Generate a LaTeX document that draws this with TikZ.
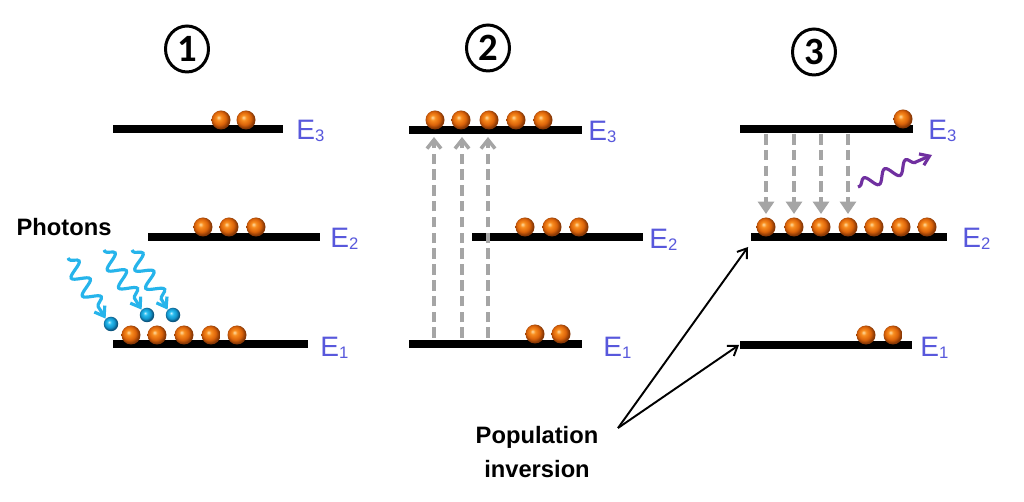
\documentclass[tikz,border=0pt]{standalone}
\usepackage{fontspec}
\setmainfont{Liberation Sans}
\newfontfamily\numfont{Carlito}
\usetikzlibrary{arrows.meta,decorations.pathmorphing,shapes.geometric}
\definecolor{lvlblue}{RGB}{88,88,220}
\definecolor{photblue}{RGB}{38,180,235}
\definecolor{emitpurple}{RGB}{112,48,160}
\definecolor{ohi}{RGB}{255,220,160}
\definecolor{omain}{RGB}{248,140,30}
\definecolor{omid}{RGB}{220,100,10}
\definecolor{odark}{RGB}{135,55,5}
\definecolor{bhi}{RGB}{200,240,255}
\definecolor{bmain}{RGB}{40,190,240}
\definecolor{bmid}{RGB}{20,150,205}
\definecolor{bdark}{RGB}{10,80,120}
\definecolor{dashgray}{RGB}{165,165,165}
\pgfdeclareradialshading{oball}{\pgfpoint{-7bp}{7bp}}{color(0bp)=(ohi); color(7bp)=(omain); color(17bp)=(omid); color(25bp)=(odark); color(50bp)=(odark)}
\pgfdeclareradialshading{bball}{\pgfpoint{-7bp}{7bp}}{color(0bp)=(bhi); color(7bp)=(bmain); color(17bp)=(bmid); color(25bp)=(bdark); color(50bp)=(bdark)}
\newcommand{\lvl}[1]{E\raisebox{-0.8pt}{\fontsize{9.5}{9.5}\selectfont #1}}
\begin{document}
\begin{tikzpicture}[x=0.02cm,y=-0.02cm,
  levelbar/.style={fill=black,inner sep=0pt,minimum height=0.16cm},
  eball/.style={circle,inner sep=0pt,minimum size=0.38cm,shading=oball},
  pball/.style={circle,inner sep=0pt,minimum size=0.29cm,shading=bball},
  lvllabel/.style={anchor=west,inner sep=0pt,text=lvlblue,font=\fontsize{16}{18}\selectfont},
  stepnum/.style={ellipse,draw=black,line width=1.7pt,minimum width=0.86cm,minimum height=0.92cm,inner sep=0pt,font=\numfont\bfseries\fontsize{22}{22}\selectfont},
  photon/.style={photblue,line width=1.8pt,-{Straight Barb[length=5pt,width=7pt]},
    decorate,decoration={snake,segment length=12,amplitude=4.5,post length=7pt,pre length=1pt}},
  emitted/.style={emitpurple,line width=1.8pt,-{Straight Barb[length=5pt,width=7pt]},
    decorate,decoration={snake,segment length=13,amplitude=3.5,post length=7pt,pre length=1pt}},
  pumpup/.style={dashgray,line width=2pt,dash pattern=on 6pt off 3pt,-{Straight Barb[length=5pt,width=8pt]}},
  decaydown/.style={dashgray,line width=2pt,dash pattern=on 6pt off 3pt,-{Triangle[length=7pt,width=9pt]}},
  pointer/.style={black,line width=1.1pt,-{Straight Barb[length=5pt,width=7pt]}},
  boldtext/.style={font=\bfseries\fontsize{13.5}{17}\selectfont,inner sep=0pt}
]
\useasboundingbox[fill=white] (0,0) rectangle (1024,502);

% step numbers
\node[stepnum] (n1) at (187,49) {1};
\node[stepnum] (n2) at (488,48) {2};
\node[stepnum] (n3) at (814,52) {3};

% ---------- panel 1 ----------
\node[levelbar,minimum width=3.4cm]  (a3) at (198,129) {};
\node[levelbar,minimum width=3.44cm] (a2) at (234,237) {};
\node[levelbar,minimum width=3.9cm]  (a1) at (210.5,344) {};
\node[lvllabel] (la3) at (296,131) {\lvl{3}};
\node[lvllabel] (la2) at (330,239) {\lvl{2}};
\node[lvllabel] (la1) at (320,348) {\lvl{1}};
\foreach \x [count=\i] in {221,246} \node[eball] (a3b\i) at (\x,120) {};
\foreach \x [count=\i] in {203,229,256} \node[eball] (a2b\i) at (\x,227) {};
\foreach \x [count=\i] in {131,157,184,211,237} \node[eball] (a1b\i) at (\x,335) {};
\node[pball] (pb1) at (111,324) {};
\node[pball] (pb2) at (147,315) {};
\node[pball] (pb3) at (173,315) {};
\node[boldtext] (phot) at (64,227) {Photons};
\coordinate (ps1) at (68,258);
\coordinate (ps2) at (104,250);
\coordinate (ps3) at (132,250);
\draw[photon] (ps1) -- (pb1.north west);
\draw[photon] (ps2) -- (pb2.north west);
\draw[photon] (ps3) -- (pb3.north west);

% ---------- panel 2 ----------
\node[levelbar,minimum width=3.46cm] (b3) at (495.5,130) {};
\node[levelbar,minimum width=3.42cm] (b2) at (557.5,237) {};
\node[levelbar,minimum width=3.46cm] (b1) at (495.5,344) {};
\node[lvllabel] (lb3) at (588,132) {\lvl{3}};
\node[lvllabel] (lb2) at (649,240) {\lvl{2}};
\node[lvllabel] (lb1) at (603,348) {\lvl{1}};
\foreach \x [count=\i] in {435,461,489,516,543} \node[eball] (b3b\i) at (\x,120) {};
\foreach \x [count=\i] in {525,552,579} \node[eball] (b2b\i) at (\x,227) {};
\foreach \x [count=\i] in {535,561} \node[eball] (b1b\i) at (\x,334) {};
\foreach \x [count=\i] in {434,462,488}{
  \coordinate (us\i) at (\x,338);
  \coordinate (ue\i) at (\x,137);
  \draw[pumpup] (us\i) -- (ue\i);
}

% ---------- panel 3 ----------
\node[levelbar,minimum width=3.46cm] (c3) at (826.5,129) {};
\node[levelbar,minimum width=3.92cm] (c2) at (849,237) {};
\node[levelbar,minimum width=3.44cm] (c1) at (826,345) {};
\node[lvllabel] (lc3) at (928,131) {\lvl{3}};
\node[lvllabel] (lc2) at (962,239) {\lvl{2}};
\node[lvllabel] (lc1) at (920,348) {\lvl{1}};
\node[eball] (c3b1) at (903,119) {};
\foreach \x [count=\i] in {766,794,821,848,874,901,927} \node[eball] (c2b\i) at (\x,227) {};
\foreach \x [count=\i] in {866,893} \node[eball] (c1b\i) at (\x,335) {};
\foreach \x [count=\i] in {766,794,821,848}{
  \coordinate (ds\i) at (\x,134);
  \coordinate (de\i) at (\x,214);
  \draw[decaydown] (ds\i) -- (de\i);
}
\coordinate (es) at (858,187);
\coordinate (ee) at (932,155);
\draw[emitted] (es) -- (ee);

% population inversion
\node[boldtext,align=center] (pop) at (537,452) {Population\\[2pt]inversion};
\coordinate (pp) at (618,428);
\coordinate (t2) at (748,247);
\coordinate (t1) at (739,345);
\draw[pointer] (pp) -- (t2);
\draw[pointer] (pp) -- (t1);
\end{tikzpicture}
\end{document}
